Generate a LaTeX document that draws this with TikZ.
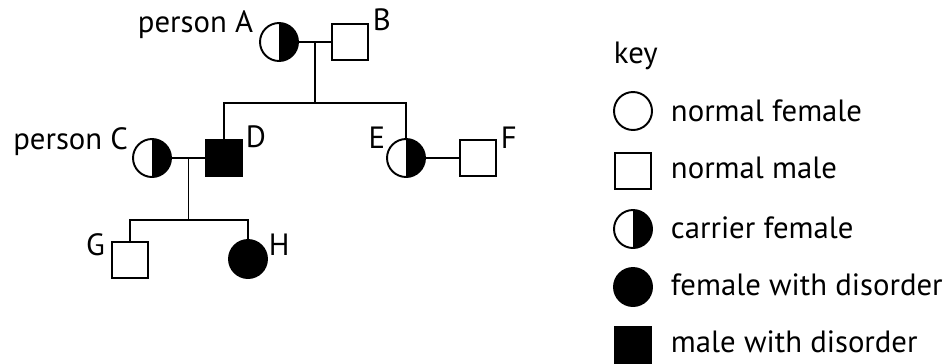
\documentclass[tikz,border=0pt]{standalone}
\usepackage{fontspec}
\setmainfont{PT Sans}
\usetikzlibrary{calc}
\begin{document}
\begin{tikzpicture}[x=0.02cm,y=-0.02cm,line width=1.1pt,
    font=\fontsize{17.5}{20}\selectfont,
    female/.style={circle,draw,minimum size=0.76cm,inner sep=0pt},
    male/.style={rectangle,draw,minimum size=0.72cm,inner sep=0pt},
    carrier/.style={female,path picture={\fill
          (path picture bounding box.north) rectangle
          (path picture bounding box.south east);}},
    affected/.style={fill=black},
    lbl/.style={inner sep=0pt}]
    \useasboundingbox (0,0) rectangle (949,363);
    \node[carrier] (A) at (279,42) {};
    \node[male] (B) at (350,42) {};
    \node[carrier] (C) at (152,158) {};
    \node[male,affected] (D) at (224,158) {};
    \node[carrier] (E) at (406,158) {};
    \node[male] (F) at (478,158) {};
    \node[male] (G) at (130,260) {};
    \node[female,affected] (H) at (248,259) {};
    \node[lbl,anchor=base east] (labA) at (254,32) {person A};
    \node[lbl,anchor=base west] (labB) at (372,30) {B};
    \node[lbl,anchor=base east] (labC) at (129,149) {person C};
    \node[lbl,anchor=base west] (labD) at (245,147) {D};
    \node[lbl,anchor=base east] (labE) at (386,148) {E};
    \node[lbl,anchor=base west] (labF) at (500,148) {F};
    \node[lbl,anchor=base east] (labG) at (106,255) {G};
    \node[lbl,anchor=base west] (labH) at (268,255) {H};
    \draw (A) -- coordinate (AB) (B);
    \coordinate (sib1) at ($(AB)+(0,61)$);
    \draw (AB) -- (sib1);
    \draw (D) -- (D |- sib1) -- (E |- sib1) -- (E);
    \draw (E) -- (F);
    \draw (C) -- coordinate (CD) (D);
    \coordinate (sib2) at ($(CD)+(0,62)$);
    \draw (CD) -- (sib2);
    \draw (G) -- (G |- sib2) -- (H |- sib2) -- (H);
    \node[lbl,anchor=base west] (keytitle) at (613,63) {key};
    \node[female] (k1) at (633,111) {};
    \node[male] (k2) at (633,171) {};
    \node[carrier] (k3) at (633,229) {};
    \node[female,affected] (k4) at (633,287) {};
    \node[male,affected] (k5) at (633,345) {};
    \node[lbl,anchor=base west] (t1) at (670,121) {normal female};
    \node[lbl,anchor=base west] (t2) at (670,178) {normal male};
    \node[lbl,anchor=base west] (t3) at (670,238) {carrier female};
    \node[lbl,anchor=base west] (t4) at (670,295) {female with disorder};
    \node[lbl,anchor=base west] (t5) at (670,352) {male with disorder};
\end{tikzpicture}
\end{document}
